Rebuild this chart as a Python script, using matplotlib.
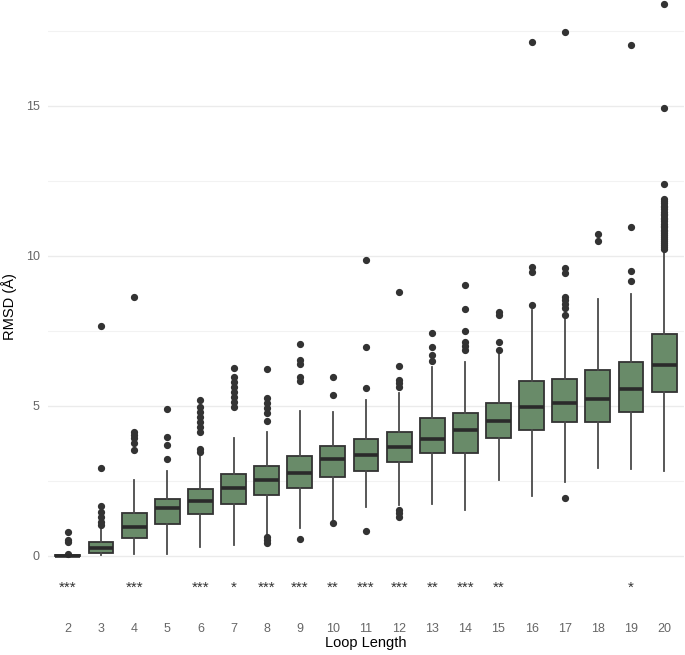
import matplotlib
matplotlib.use("Agg")
import matplotlib.pyplot as plt

# Loop length categories and box statistics (RMSD in Angstrom)
loop_lengths = [2, 3, 4, 5, 6, 7, 8, 9, 10, 11, 12, 13, 14, 15, 16, 17, 18, 19, 20]
q1 = [0.00, 0.09, 0.59, 1.07, 1.39, 1.73, 2.03, 2.26, 2.64, 2.84, 3.12, 3.42, 3.42, 3.92, 4.20, 4.45, 4.48, 4.81, 5.48]
medians = [0.00, 0.28, 0.96, 1.59, 1.83, 2.28, 2.53, 2.76, 3.22, 3.37, 3.62, 3.91, 4.20, 4.50, 4.97, 5.11, 5.22, 5.57, 6.35]
q3 = [0.03, 0.48, 1.44, 1.89, 2.22, 2.73, 3.00, 3.33, 3.67, 3.89, 4.13, 4.59, 4.76, 5.11, 5.83, 5.89, 6.19, 6.45, 7.41]
whisker_low = [0.00, 0.03, 0.07, 0.07, 0.29, 0.37, 0.70, 0.92, 1.14, 1.62, 1.70, 1.73, 1.53, 2.53, 2.00, 2.48, 2.94, 2.90, 2.83]
whisker_high = [0.04, 0.92, 2.53, 2.83, 3.37, 3.94, 4.14, 4.83, 4.79, 5.20, 5.42, 6.30, 6.46, 6.73, 8.20, 7.90, 8.55, 8.74, 10.17]
outliers = [
    [0.81, 0.53, 0.45, 0.08],
    [7.67, 2.92, 1.67, 1.48, 1.31, 1.14, 1.03],
    [8.64, 4.14, 4.03, 3.92, 3.78, 3.53],
    [4.89, 3.98, 3.70, 3.23],
    [5.20, 4.98, 4.81, 4.64, 4.48, 4.31, 4.14, 3.56, 3.48],
    [6.26, 5.98, 5.81, 5.64, 5.48, 5.31, 5.14, 4.98],
    [6.22, 5.26, 5.09, 4.92, 4.76, 4.51, 0.64, 0.53, 0.44],
    [7.06, 6.53, 6.39, 5.98, 5.84, 0.56],
    [5.98, 5.37, 1.09],
    [9.87, 6.98, 5.61, 0.83],
    [8.81, 6.33, 5.87, 5.76, 5.64, 1.53, 1.42, 1.31],
    [7.44, 6.98, 6.70, 6.50],
    [9.03, 8.23, 7.51, 7.14, 7.01, 6.87],
    [8.12, 8.03, 7.14, 6.87],
    [17.13, 9.64, 9.48, 8.37],
    [17.47, 9.59, 9.42, 8.64, 8.53, 8.40, 8.26, 8.03, 1.92],
    [10.72, 10.51],
    [17.04, 10.96, 9.50, 9.18],
    [18.39, 14.93, 12.39, 11.89, 11.82, 11.75, 11.68, 11.62, 11.55, 11.48, 11.41, 11.35,
     11.28, 11.22, 11.15, 11.08, 11.01, 10.95, 10.88, 10.82, 10.75, 10.69, 10.62,
     10.56, 10.49, 10.43, 10.36, 10.30, 10.24],
]
signif = ["***", "", "***", "", "***", "*", "***", "***", "**", "***", "***", "**", "***", "**", "", "", "", "*", ""]
signif_y = -1.19

FILL = "#698b69"
DARK = "#333333"

stats = []
for i, n in enumerate(loop_lengths):
    stats.append({
        "label": str(n), "q1": q1[i], "med": medians[i], "q3": q3[i],
        "whislo": whisker_low[i], "whishi": whisker_high[i], "fliers": outliers[i],
    })

fig = plt.figure(figsize=(6.85, 6.55), dpi=100)
ax = fig.add_axes([48 / 685, 42 / 655, 636 / 685, 613 / 655])

ax.bxp(
    stats, positions=range(len(loop_lengths)), widths=0.75, patch_artist=True,
    showcaps=False,
    boxprops=dict(facecolor=FILL, edgecolor=DARK, linewidth=1.3),
    medianprops=dict(color="#2a2a2a", linewidth=2.6, solid_capstyle="butt"),
    whiskerprops=dict(color="#4a4a4a", linewidth=1.3),
    flierprops=dict(marker="o", markerfacecolor=DARK, markeredgecolor=DARK, markersize=4.2),
)

for i, s in enumerate(signif):
    if s:
        ax.text(i, signif_y, s, ha="center", va="baseline", fontsize=11, color=DARK,
                family="Liberation Sans")

ax.set_xlim(-0.6, len(loop_lengths) - 0.4)
ax.set_ylim(-1.9, 18.53)
ax.set_yticks([0, 5, 10, 15])
ax.set_yticks([2.5, 7.5, 12.5, 17.5], minor=True)
ax.grid(axis="y", which="major", color="#ebebeb", linewidth=1.0)
ax.grid(axis="y", which="minor", color="#f2f2f2", linewidth=0.8)
ax.set_axisbelow(True)
for sp in ax.spines.values():
    sp.set_visible(False)
ax.tick_params(axis="both", which="both", length=0, labelsize=9, labelcolor="#666666")
ax.tick_params(axis="x", pad=7)
ax.tick_params(axis="y", pad=6)
for lab in ax.get_xticklabels() + ax.get_yticklabels():
    lab.set_family("Liberation Sans")
ax.set_xlabel("Loop Length", fontsize=10.5, family="Liberation Sans", labelpad=1)
ax.set_ylabel("RMSD (Å)", fontsize=10.5, family="Liberation Sans", labelpad=6)

fig.savefig("out.png", dpi=100)
